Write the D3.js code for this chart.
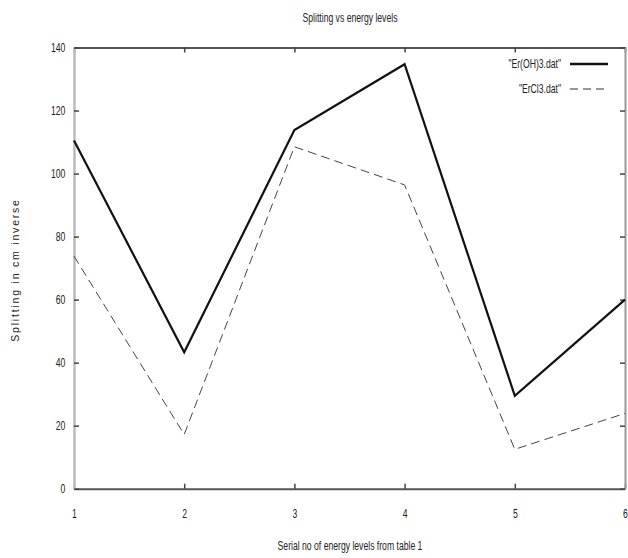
<!DOCTYPE html>
<html>
<head>
<meta charset="utf-8">
<script src="https://cdn.jsdelivr.net/npm/d3@7"></script>
<style>
  body { margin: 0; background: #fff; }
  text { font-family: "Liberation Sans", Arial, sans-serif; fill: #222; }
</style>
</head>
<body>
<div id="chart"></div>
<script>
const levels = [1, 2, 3, 4, 5, 6];
const erOH3 = [110.5, 43.3, 113.8, 134.7, 29.5, 60];
const erCl3 = [73.8, 17.2, 108.5, 96.4, 12.5, 23.9];
const seriesNames = ['"Er(OH)3.dat"', '"ErCl3.dat"'];
const yTicks = [0, 20, 40, 60, 80, 100, 120, 140];

const WIDTH = 628;
const HEIGHT = 558;
const LEFT = 74, RIGHT = 625, TOP = 47.5, BOTTOM = 488.7;
const NARROW = 0.72; // squeeze text horizontally, the original font is condensed

var translate = function (x, y) {
    return "translate(" + x + "," + y + ")";
};

var svg = d3.select('#chart').append('svg')
    .attr('width', WIDTH)
    .attr('height', HEIGHT);

var xScale = d3.scaleLinear().domain([1, 6]).range([LEFT, RIGHT]);
var yScale = d3.scaleLinear().domain([0, 140]).range([BOTTOM, TOP]);

// axes, ticks drawn inward like gnuplot
var styleAxis = function (g, color, width) {
    g.select('.domain').attr('stroke', color).attr('stroke-width', width);
    g.selectAll('.tick line').attr('stroke', '#444').attr('stroke-width', 1.5);
    g.selectAll('.tick text')
        .style('font-family', '"Liberation Sans", Arial, sans-serif')
        .style('font-size', '12px')
        .attr('fill', '#222')
        .attr('transform', 'scale(' + NARROW + ',1)');
};

svg.append('g').attr('transform', translate(0, BOTTOM))
    .call(d3.axisBottom(xScale).tickValues(levels).tickFormat(d3.format('d')).tickSizeInner(-5).tickSizeOuter(0).tickPadding(21))
    .call(styleAxis, '#555', 2);

svg.append('g').attr('transform', translate(0, TOP))
    .call(d3.axisTop(xScale).tickValues(levels).tickFormat('').tickSizeInner(-5).tickSizeOuter(0))
    .call(styleAxis, '#555', 2);

svg.append('g').attr('transform', translate(LEFT, 0))
    .call(d3.axisLeft(yScale).tickValues(yTicks).tickSizeInner(-5).tickSizeOuter(0).tickPadding(12))
    .call(styleAxis, '#bbb', 2.5);

svg.append('g').attr('transform', translate(RIGHT, 0))
    .call(d3.axisRight(yScale).tickValues(yTicks).tickFormat('').tickSizeInner(-5).tickSizeOuter(0))
    .call(styleAxis, '#999', 2);

// lines
var line = d3.line()
    .x(function (d, i) { return xScale(levels[i]); })
    .y(function (d) { return yScale(d); });

svg.append('path')
    .attr('d', line(erCl3))
    .attr('fill', 'none')
    .attr('stroke', '#444')
    .attr('stroke-width', 1)
    .attr('stroke-dasharray', '9,5');

svg.append('path')
    .attr('d', line(erOH3))
    .attr('fill', 'none')
    .attr('stroke', '#111')
    .attr('stroke-width', 2.2);

var narrowText = function (x, y, anchor, size, str) {
    return svg.append('text')
        .attr('transform', translate(x, y) + ' scale(' + NARROW + ',1)')
        .attr('text-anchor', anchor)
        .style('font-size', size + 'px')
        .text(str);
};

// legend
seriesNames.forEach(function (name, i) {
    var y = 64 + i * 25;
    narrowText(561, y + 4, 'end', 12, name);
    svg.append('line')
        .attr('x1', 570).attr('x2', 608)
        .attr('y1', y).attr('y2', y)
        .attr('stroke', i === 0 ? '#111' : '#333')
        .attr('stroke-width', i === 0 ? 2.5 : 1.2)
        .attr('stroke-dasharray', i === 0 ? null : '8,5');
});

// titles
narrowText(350, 22, 'middle', 12, 'Splitting vs energy levels');
narrowText(350, 550, 'middle', 12, 'Serial no of energy levels from table 1');

svg.append('text')
    .attr('transform', translate(19, 270) + ' rotate(-90)')
    .attr('text-anchor', 'middle')
    .style('font-size', '10.5px')
    .style('letter-spacing', '1.8px')
    .text('Splitting in cm inverse');
</script>
</body>
</html>
